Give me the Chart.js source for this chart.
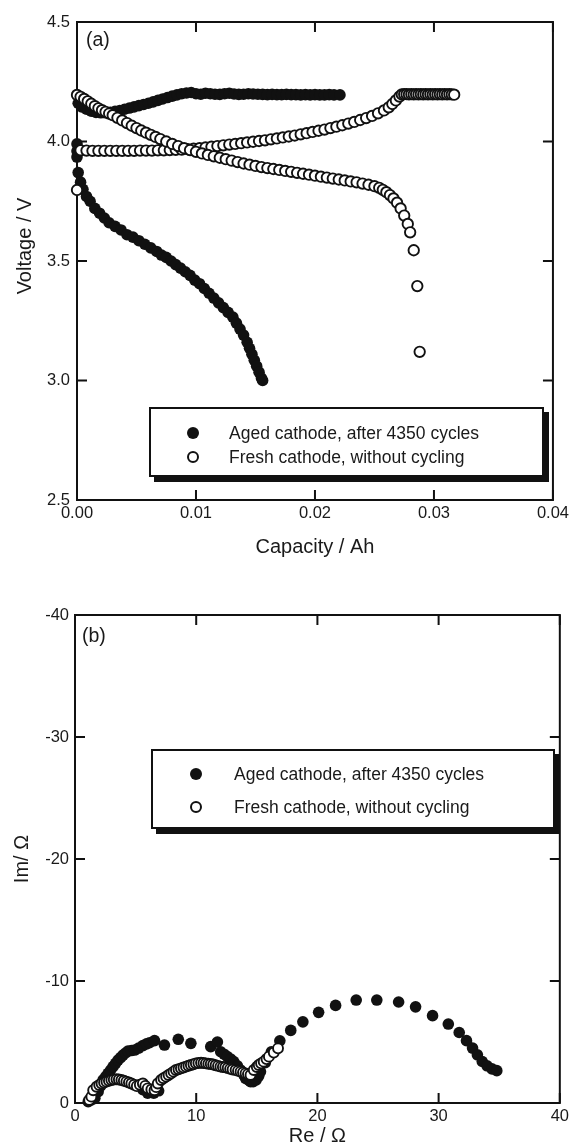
<!DOCTYPE html>
<html>
<head>
<meta charset="utf-8">
<script src="https://cdn.jsdelivr.net/npm/chart.js@4.4.0/dist/chart.umd.min.js"></script>
<style>
html,body{margin:0;padding:0;background:#fff;overflow:hidden;width:573px;height:1145px;}
#wrap{position:relative;width:573px;height:1145px;overflow:hidden;}
canvas{position:absolute;left:0;}
.legend{position:absolute;background:#fff;border:2px solid #111;box-shadow:5px 5px 0 #111;font-family:"Liberation Sans",Arial,sans-serif;font-size:17.5px;color:#1a1a1a;box-sizing:border-box;}
.row{position:absolute;white-space:nowrap;line-height:20px;height:20px;}
.mk{position:absolute;width:12px;height:12px;border-radius:50%;box-sizing:border-box;}
.filled{background:#111;}
.open{background:#fff;border:2px solid #111;}
.panel{position:absolute;font-family:"Liberation Sans",Arial,sans-serif;font-size:19.5px;line-height:24px;color:#1a1a1a;}
</style>
</head>
<body>
<div id="wrap">
  <canvas id="chartA" width="573" height="570" style="top:0;width:573px;height:570px;"></canvas>
  <canvas id="chartB" width="573" height="580" style="top:575px;width:573px;height:580px;"></canvas>
  <div class="panel" style="left:86px;top:27px;">(a)</div>
  <div class="panel" style="left:82px;top:623px;">(b)</div>
  <div class="legend" style="left:149px;top:407px;width:395px;height:70px;">
    <div class="mk filled" style="left:36px;top:18px;"></div>
    <div class="row" id="legA1" style="left:78px;top:14px;"></div>
    <div class="mk open" style="left:36px;top:42px;"></div>
    <div class="row" id="legA2" style="left:78px;top:38px;"></div>
  </div>
  <div class="legend" style="left:151px;top:749px;width:404px;height:80px;">
    <div class="mk filled" style="left:37px;top:17px;"></div>
    <div class="row" id="legB1" style="left:81px;top:13px;"></div>
    <div class="mk open" style="left:37px;top:50px;"></div>
    <div class="row" id="legB2" style="left:81px;top:46px;"></div>
  </div>
</div>
<script>
// ---------- Series names ----------
const seriesNames = ['Aged cathode, after 4350 cycles', 'Fresh cathode, without cycling'];

// ---------- Panel (a): charge / discharge curves ----------
const agedChargeCap = [0, 0, 0, 0.0001, 0.0004, 0.0008, 0.0012, 0.0016, 0.002, 0.0024, 0.0028, 0.0032, 0.0036, 0.004, 0.0044, 0.0048, 0.0052, 0.0056, 0.006, 0.0064, 0.0068, 0.0072, 0.0076, 0.008, 0.0084, 0.0088, 0.0092, 0.0096, 0.01, 0.0104, 0.0108, 0.0112, 0.0116, 0.012, 0.0124, 0.0128, 0.0132, 0.0136, 0.014, 0.0144, 0.0148, 0.0152, 0.0156, 0.016, 0.0164, 0.0168, 0.0172, 0.0176, 0.018, 0.0184, 0.0188, 0.0192, 0.0196, 0.02, 0.0204, 0.0208, 0.0212, 0.0216, 0.0221];
const agedChargeV = [3.935, 3.96, 3.99, 4.16, 4.145, 4.135, 4.127, 4.122, 4.12, 4.12, 4.122, 4.126, 4.13, 4.135, 4.14, 4.145, 4.15, 4.155, 4.16, 4.166, 4.172, 4.178, 4.184, 4.19, 4.195, 4.2, 4.203, 4.205, 4.2, 4.198, 4.202, 4.2, 4.198, 4.197, 4.2, 4.202, 4.199, 4.197, 4.198, 4.2, 4.199, 4.198, 4.197, 4.196, 4.197, 4.196, 4.196, 4.197, 4.196, 4.196, 4.195, 4.196, 4.195, 4.196, 4.195, 4.195, 4.196, 4.195, 4.195];

const agedDischargeCap = [0.0001, 0.0003, 0.0005, 0.0008, 0.0011, 0.0015, 0.0019, 0.0023, 0.0027, 0.0032, 0.0037, 0.0042, 0.0047, 0.0052, 0.0057, 0.0062, 0.0067, 0.0071, 0.0075, 0.0079, 0.0083, 0.0087, 0.0091, 0.0095, 0.0099, 0.0103, 0.0107, 0.0111, 0.0115, 0.0119, 0.0123, 0.0127, 0.0131, 0.0134, 0.0137, 0.014, 0.0143, 0.0145, 0.0147, 0.0149, 0.0151, 0.0153, 0.0155, 0.0156];
const agedDischargeV = [3.87, 3.83, 3.8, 3.77, 3.75, 3.72, 3.7, 3.68, 3.66, 3.645, 3.63, 3.61, 3.6, 3.585, 3.57, 3.555, 3.54, 3.525, 3.515, 3.5, 3.485, 3.47, 3.455, 3.44, 3.42, 3.405, 3.385, 3.365, 3.345, 3.325, 3.305, 3.285, 3.265, 3.24, 3.215, 3.19, 3.16, 3.135, 3.11, 3.085, 3.06, 3.035, 3.01, 3.0];

const freshChargeCap = [0, 0.0003, 0.0008, 0.0013, 0.0018, 0.0023, 0.0028, 0.0033, 0.0038, 0.0043, 0.0048, 0.0053, 0.0058, 0.0063, 0.0068, 0.0073, 0.0078, 0.0083, 0.0088, 0.0093, 0.0098, 0.0103, 0.0108, 0.0113, 0.0118, 0.0123, 0.0128, 0.0133, 0.0138, 0.0143, 0.0148, 0.0153, 0.0158, 0.0163, 0.0168, 0.0173, 0.0178, 0.0183, 0.0188, 0.0193, 0.0198, 0.0203, 0.0208, 0.0213, 0.0218, 0.0223, 0.0228, 0.0233, 0.0238, 0.0243, 0.0248, 0.0253, 0.0258, 0.0262, 0.0265, 0.0268, 0.0271, 0.0273, 0.0275, 0.0277, 0.0279, 0.0281, 0.0283, 0.0285, 0.0287, 0.0289, 0.0291, 0.0293, 0.0295, 0.0297, 0.0299, 0.0301, 0.0303, 0.0305, 0.0307, 0.0309, 0.0311, 0.0313, 0.0315, 0.0317];
const freshChargeV = [3.797, 3.963, 3.962, 3.961, 3.961, 3.961, 3.961, 3.961, 3.961, 3.961, 3.961, 3.962, 3.962, 3.962, 3.963, 3.963, 3.964, 3.965, 3.966, 3.968, 3.97, 3.972, 3.975, 3.978, 3.981, 3.984, 3.987, 3.99, 3.993, 3.996, 3.999, 4.002, 4.005, 4.009, 4.013, 4.017, 4.021, 4.025, 4.03, 4.035, 4.04, 4.045, 4.05, 4.056, 4.062, 4.068, 4.075, 4.082, 4.09, 4.098, 4.107, 4.118, 4.13, 4.143, 4.157, 4.172, 4.188, 4.197, 4.198, 4.198, 4.197, 4.198, 4.197, 4.198, 4.197, 4.198, 4.197, 4.198, 4.197, 4.198, 4.197, 4.198, 4.197, 4.198, 4.197, 4.198, 4.197, 4.198, 4.197, 4.196];

const freshDischargeCap = [0, 0.0003, 0.0006, 0.0009, 0.0012, 0.0015, 0.0018, 0.0021, 0.0024, 0.0027, 0.003, 0.0034, 0.0038, 0.0042, 0.0046, 0.005, 0.0054, 0.0058, 0.0062, 0.0066, 0.007, 0.0075, 0.008, 0.0085, 0.009, 0.0095, 0.01, 0.0105, 0.011, 0.0115, 0.012, 0.0125, 0.013, 0.0135, 0.014, 0.0145, 0.015, 0.0155, 0.016, 0.0165, 0.017, 0.0175, 0.018, 0.0185, 0.019, 0.0195, 0.02, 0.0205, 0.021, 0.0215, 0.022, 0.0225, 0.023, 0.0235, 0.024, 0.0245, 0.025, 0.0254, 0.0257, 0.026, 0.0263, 0.0266, 0.0269, 0.0272, 0.0275, 0.0278, 0.028, 0.0283, 0.0286, 0.0288];
const freshDischargeV = [4.195, 4.187, 4.178, 4.168, 4.158, 4.148, 4.139, 4.131, 4.124, 4.117, 4.11, 4.099, 4.088, 4.077, 4.066, 4.056, 4.046, 4.037, 4.028, 4.019, 4.01, 4.0, 3.99, 3.981, 3.972, 3.964, 3.957, 3.95, 3.944, 3.938, 3.932, 3.926, 3.92, 3.914, 3.908, 3.903, 3.898, 3.893, 3.889, 3.885, 3.881, 3.877, 3.873, 3.869, 3.865, 3.861, 3.857, 3.853, 3.849, 3.845, 3.841, 3.837, 3.833, 3.829, 3.824, 3.819, 3.813, 3.806, 3.798, 3.788, 3.776, 3.762, 3.744, 3.72, 3.69, 3.655, 3.62, 3.545, 3.395, 3.12];

// ---------- Panel (b): impedance spectra ----------
const agedRe = [1.09, 1.35, 1.64, 1.91, 2.12, 2.32, 2.52, 2.73, 2.94, 3.14, 3.35, 3.55, 3.76, 3.96, 4.17, 4.37, 4.65, 4.92, 5.25, 5.6, 5.9, 6.15, 6.56, 7.38, 8.52, 9.56, 5.6, 6.0, 6.5, 6.9, 11.2, 11.75, 12.02, 12.3, 12.57, 12.85, 13.1, 13.4, 13.66, 13.9, 14.07, 14.3, 14.48, 14.7, 14.95, 15.15, 15.3, 15.7, 16.2, 16.9, 17.8, 18.8, 20.1, 21.5, 23.2, 24.9, 26.7, 28.1, 29.5, 30.8, 31.7, 32.3, 32.8, 33.2, 33.6, 34.0, 34.4, 34.8];
const agedIm = [-0.11, -0.25, -0.38, -0.93, -1.4, -1.89, -2.15, -2.43, -2.7, -2.98, -3.25, -3.52, -3.72, -3.93, -4.1, -4.26, -4.3, -4.34, -4.5, -4.7, -4.85, -4.94, -5.11, -4.75, -5.22, -4.89, -1.1, -0.8, -0.8, -1.0, -4.62, -5.0, -4.2, -4.0, -3.8, -3.6, -3.39, -3.05, -2.7, -2.35, -2.02, -1.89, -1.75, -1.75, -1.9, -2.2, -2.57, -3.3, -4.2, -5.1, -5.95, -6.65, -7.43, -8.0, -8.44, -8.44, -8.28, -7.88, -7.16, -6.47, -5.78, -5.11, -4.5, -3.95, -3.4, -3.05, -2.8, -2.65];

const freshRe = [1.17, 1.35, 1.5, 1.78, 2.0, 2.19, 2.4, 2.6, 2.8, 3.0, 3.2, 3.42, 3.62, 3.83, 4.03, 4.24, 4.45, 4.65, 4.88, 5.1, 5.35, 5.6, 5.8, 6.0, 6.3, 6.56, 6.7, 6.83, 7.1, 7.3, 7.52, 7.72, 7.93, 8.13, 8.33, 8.54, 8.74, 8.95, 9.16, 9.36, 9.56, 9.77, 9.97, 10.18, 10.4, 10.6, 10.8, 11.0, 11.2, 11.4, 11.6, 11.8, 12.0, 12.2, 12.4, 12.6, 12.8, 13.0, 13.25, 13.45, 13.66, 13.86, 14.07, 14.27, 14.48, 14.75, 15.0, 15.16, 15.35, 15.57, 15.8, 16.0, 16.4, 16.75];
const freshIm = [-0.25, -0.52, -1.05, -1.33, -1.47, -1.6, -1.68, -1.75, -1.82, -1.89, -1.92, -1.95, -1.93, -1.89, -1.82, -1.75, -1.68, -1.6, -1.5, -1.38, -1.5, -1.6, -1.4, -1.2, -1.1, -1.05, -1.3, -1.6, -1.89, -2.03, -2.16, -2.3, -2.43, -2.57, -2.7, -2.77, -2.84, -2.91, -2.98, -3.05, -3.11, -3.18, -3.25, -3.28, -3.3, -3.28, -3.25, -3.22, -3.2, -3.15, -3.1, -3.04, -2.98, -2.95, -2.93, -2.87, -2.8, -2.75, -2.7, -2.63, -2.57, -2.5, -2.43, -2.37, -2.3, -2.7, -2.95, -3.11, -3.25, -3.39, -3.6, -3.8, -4.13, -4.48];

// ---------- Axis texts ----------
const capacityTitle = 'Capacity / Ah';
const voltageTitle = 'Voltage / V';
const reTitle = 'Re / \u03A9';
const imTitle = 'Im/ \u03A9';

// ---------- helpers ----------
const zip = (xs, ys) => xs.map((x, i) => ({x: x, y: ys[i]}));
const FONT = '"Liberation Sans", Arial, sans-serif';
const INK = '#1a1a1a';

document.getElementById('legA1').textContent = seriesNames[0];
document.getElementById('legA2').textContent = seriesNames[1];
document.getElementById('legB1').textContent = seriesNames[0];
document.getElementById('legB2').textContent = seriesNames[1];

const framePlugin = {
  id: 'frameTicks',
  beforeDatasetsDraw(chart) {
    const {ctx, chartArea: a, scales} = chart;
    ctx.save();
    ctx.strokeStyle = '#111';
    ctx.lineWidth = 2;
    ctx.strokeRect(a.left, a.top, a.right - a.left, a.bottom - a.top);
    const L = 10;
    ctx.beginPath();
    scales.x.ticks.forEach(t => {
      const p = scales.x.getPixelForValue(t.value);
      ctx.moveTo(p, a.bottom); ctx.lineTo(p, a.bottom - L);
      ctx.moveTo(p, a.top); ctx.lineTo(p, a.top + L);
    });
    scales.y.ticks.forEach(t => {
      const p = scales.y.getPixelForValue(t.value);
      ctx.moveTo(a.left, p); ctx.lineTo(a.left + L, p);
      ctx.moveTo(a.right, p); ctx.lineTo(a.right - L, p);
    });
    ctx.stroke();
    ctx.restore();
  }
};

const yTitlePluginA = {
  id: 'yTitleA',
  afterDraw(chart) {
    const ctx = chart.ctx;
    ctx.save();
    ctx.translate(25, 246);
    ctx.rotate(-Math.PI / 2);
    ctx.font = '20px ' + FONT;
    ctx.fillStyle = INK;
    ctx.textAlign = 'center';
    ctx.textBaseline = 'middle';
    ctx.fillText(voltageTitle, 0, 0);
    ctx.restore();
  }
};

const agedStyle = {pointRadius: 5.8, pointHoverRadius: 5.8, pointBackgroundColor: '#111', pointBorderWidth: 0, pointBorderColor: '#111', showLine: false, clip: false, order: 1};
const freshStyle = {pointRadius: 5.2, pointHoverRadius: 5.2, pointBackgroundColor: '#fff', pointBorderWidth: 1.9, pointBorderColor: '#111', showLine: false, clip: false, order: 0};

const tickFont = {family: FONT, size: 16.5};
const titleFont = {family: FONT, size: 20};

new Chart(document.getElementById('chartA'), {
  type: 'scatter',
  data: {
    datasets: [
      Object.assign({label: seriesNames[0], data: zip(agedChargeCap, agedChargeV).concat(zip(agedDischargeCap, agedDischargeV))}, agedStyle),
      Object.assign({label: seriesNames[1], data: zip(freshChargeCap, freshChargeV).concat(zip(freshDischargeCap, freshDischargeV))}, freshStyle)
    ]
  },
  options: {
    responsive: false, animation: false, devicePixelRatio: 1,
    layout: {padding: {top: 22, right: 17, left: 0, bottom: 0}},
    plugins: {legend: {display: false}, tooltip: {enabled: false}},
    scales: {
      x: {
        type: 'linear', min: 0, max: 0.04,
        ticks: {stepSize: 0.01, color: INK, font: tickFont, padding: 4, maxRotation: 0, callback: v => v.toFixed(2)},
        grid: {display: false, drawTicks: false}, border: {display: false},
        title: {display: true, text: capacityTitle, color: INK, font: titleFont, padding: {top: 0, bottom: 11}},
        afterFit: s => { s.height = 70; }
      },
      y: {
        type: 'linear', min: 2.5, max: 4.5,
        ticks: {stepSize: 0.5, color: INK, font: tickFont, padding: 7, callback: v => v.toFixed(1)},
        grid: {display: false, drawTicks: false}, border: {display: false},
        title: {display: false},
        afterFit: s => { s.width = 77; }
      }
    }
  },
  plugins: [framePlugin, yTitlePluginA]
});

new Chart(document.getElementById('chartB'), {
  type: 'scatter',
  data: {
    datasets: [
      Object.assign({label: seriesNames[0], data: zip(agedRe, agedIm)}, agedStyle, {pointRadius: 5.8}),
      Object.assign({label: seriesNames[1], data: zip(freshRe, freshIm)}, freshStyle, {pointRadius: 5})
    ]
  },
  options: {
    responsive: false, animation: false, devicePixelRatio: 1,
    layout: {padding: {top: 40, right: 10, left: 0, bottom: 0}},
    plugins: {legend: {display: false}, tooltip: {enabled: false}},
    scales: {
      x: {
        type: 'linear', min: 0, max: 40,
        ticks: {stepSize: 10, color: INK, font: tickFont, padding: 4, maxRotation: 0},
        grid: {display: false, drawTicks: false}, border: {display: false},
        title: {display: true, text: reTitle, color: INK, font: titleFont, padding: {top: 0, bottom: 7}},
        afterFit: s => { s.height = 52; }
      },
      y: {
        type: 'linear', min: -40, max: 0, reverse: true,
        ticks: {stepSize: 10, color: INK, font: tickFont, padding: 6},
        grid: {display: false, drawTicks: false}, border: {display: false},
        title: {display: true, text: imTitle, color: INK, font: titleFont, padding: {top: 10, bottom: 0}},
        afterFit: s => { s.width = 75; }
      }
    }
  },
  plugins: [framePlugin]
});
</script>
</body>
</html>
